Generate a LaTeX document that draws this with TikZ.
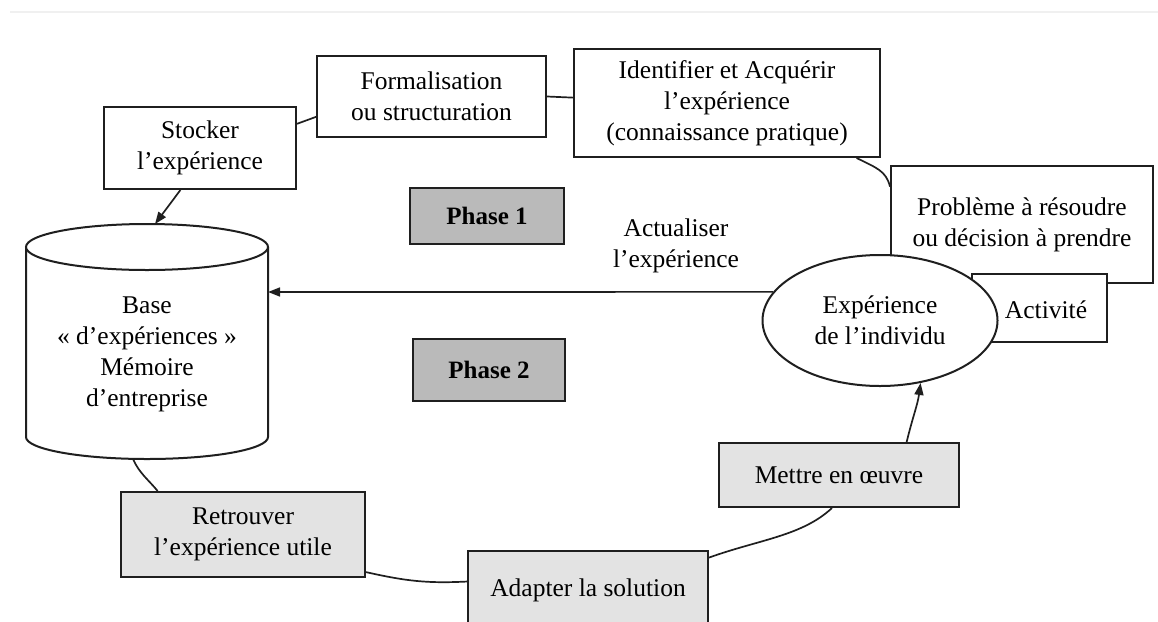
\documentclass[tikz,border=0pt]{standalone}
\usepackage{fontspec}
\setmainfont{Liberation Serif}
\usetikzlibrary{arrows.meta,shapes.geometric}
\begin{document}
\begin{tikzpicture}[x=1pt,y=-1pt,
  every node/.style={font=\fontsize{25.5}{31}\selectfont, align=center, inner sep=0pt},
  box/.style={draw=black!88, line width=2pt, fill=white, rectangle},
  lightbox/.style={box, fill=black!11},
  phasebox/.style={box, fill=black!27, font=\fontsize{25}{31}\selectfont\bfseries},
  conn/.style={draw=black!88, line width=1.7pt},
  arr/.style={conn, -{Triangle[length=12pt,width=9pt]}},
]
\useasboundingbox (0,0) rectangle (1158,621);
\clip (0,0) rectangle (1158,621);
% faint top separator
\draw[black!6, line width=1.5pt] (10,12) -- (1158,12);

% cylinder (Base d'expériences)
\coordinate (cyltop) at (155,224);
\coordinate (cylbot) at (133,459);
\coordinate (cylright) at (268,292);
\draw[box] (26,247) -- (26,437) arc[start angle=180, end angle=0, x radius=121, y radius=22] -- (268,247);
\draw[box] (147,247) ellipse[x radius=121, y radius=23];
\node (cyl) at (147,354) {Base\\« d’expériences »\\Mémoire\\d’entreprise};

% top boxes
\node[box, minimum width=192pt, minimum height=82pt] (stocker) at (200,148) {Stocker\\l’expérience};
\node[box, minimum width=229pt, minimum height=81pt] (formal) at (431.5,96.5) {Formalisation\\ou structuration};
\node[box, minimum width=306pt, minimum height=108pt] (ident) at (727,103) {Identifier et Acquérir\\l’expérience\\(connaissance pratique)};
\node[box, minimum width=262pt, minimum height=117pt] (prob) at (1022,224.5) {Problème à résoudre\\ou décision à prendre};
\node[box, minimum width=135pt, minimum height=68pt] (activ) at (1039.5,308) {};
\node (activtxt) at (1046,310) {Activité};
\node[box, ellipse, minimum width=235pt, minimum height=131pt] (ell) at (880,320.5) {Expérience\\de l’individu};

% phases
\node[phasebox, minimum width=154pt, minimum height=56pt] (ph1) at (487,216) {Phase 1};
\node[phasebox, minimum width=152pt, minimum height=62pt] (ph2) at (489,370) {Phase 2};
\node (actu) at (676,246) {Actualiser\\l’expérience};

% bottom boxes
\node[lightbox, minimum width=244pt, minimum height=85pt] (retro) at (243,534.5) {Retrouver\\l’expérience utile};
\node[lightbox, minimum width=240pt, minimum height=78pt] (adapt) at (588,590) {Adapter la solution};
\node[lightbox, minimum width=240pt, minimum height=64pt] (mettre) at (839,475) {Mettre en œuvre};

% connectors
\draw[conn] (stocker.14) -- (formal.190);
\draw[conn] (formal.east) -- (ident.178);
\draw[conn] (ident.-23) .. controls +(20,10) and +(-4,-16) .. (prob.164);
\draw[conn] (cylbot) .. controls +(6,14) and +(-8,-10) .. (retro.153);
\draw[conn] (retro.-17) .. controls +(40,9) and +(-40,2) .. (adapt.176);
\draw[conn] (adapt.15) .. controls +(50,-18) and +(-30,28) .. (mettre.-102);
\draw[arr] (mettre.26) .. controls +(6,-25) and +(-3,22) .. (ell.-57);
\draw[arr] (ell.165) -- (cylright);
\draw[arr] (stocker.-115) -- (cyltop);
\end{tikzpicture}
\end{document}
